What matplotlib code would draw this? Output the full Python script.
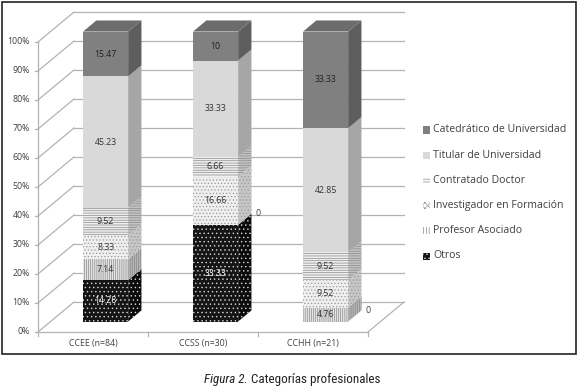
import matplotlib
matplotlib.use("Agg")
import matplotlib.pyplot as plt
from matplotlib.patches import Polygon, Rectangle

plt.rcParams["hatch.linewidth"] = 0.5

CATEGORIES = ["CCEE (n=84)", "CCSS (n=30)", "CCHH (n=21)"]
# stacked bottom -> top
SERIES = ["Otros", "Profesor Asociado", "Investigador en Formación",
          "Contratado Doctor", "Titular de Universidad", "Catedrático de Universidad"]
otros = [14.28, 33.33, 0]
prof_asociado = [7.14, 0, 4.76]
investigador = [8.33, 16.66, 9.52]
contratado = [9.52, 6.66, 9.52]
titular = [45.23, 33.33, 42.85]
catedratico = [15.47, 10, 33.33]
VALUES = [otros, prof_asociado, investigador, contratado, titular, catedratico]
YTICKS = list(range(0, 101, 10))

# front, side, top, hatch, hatch colour, label colour, legend hatch
STYLE = {
    "Otros": ("#151515", "#0b0b0b", "#202020", "....", "#d8d8d8", "white", "...."),
    "Profesor Asociado": ("#e4e4e4", "#b3b3b3", "#cccccc", "||||||||", "#8c8c8c", "#333333", "||||||"),
    "Investigador en Formación": ("#efefef", "#c6c6c6", "#dddddd", ".....", "#9a9a9a", "#333333", "xxxxxx"),
    "Contratado Doctor": ("#efefef", "#c2c2c2", "#dddddd", "-------", "#8a8a8a", "#333333", "------"),
    "Titular de Universidad": ("#d9d9d9", "#a6a6a6", "#c4c4c4", None, None, "#333333", None),
    "Catedrático de Universidad": ("#808080", "#5e5e5e", "#6c6c6c", None, None, "#222222", None),
}

FONT = ["Open Sans", "DejaVu Sans"]
DX, DY = 0.327, 10.34      # depth offset (category units, percent units)
D0, D1 = 0.35, 0.72        # bar depth span
W = 0.41
GRID = "#b3b3b3"


def proj(x, y, d):
    return (x + d * DX, y + d * DY)


fig = plt.figure(figsize=(5.8, 3.9), dpi=100)
ax = fig.add_axes([0, 0, 1, 1])
ax.set_xlim(-0.8455, 4.4273)
ax.set_ylim(-20.0, 114.48)
ax.axis("off")

# walls and floor
for v in YTICKS:
    ax.plot(*zip(proj(-0.5, v, 1), proj(2.5, v, 1)), color=GRID, lw=0.9, zorder=1)
    ax.plot(*zip(proj(-0.5, v, 0), proj(-0.5, v, 1)), color=GRID, lw=0.9, zorder=1)
    ax.plot([-0.5, -0.53], [v, v], color=GRID, lw=0.9, zorder=1)
    ax.text(-0.575, v, f"{v}%", ha="right", va="center", fontsize=6.3,
            color="#404040", family=FONT)
ax.plot([-0.5, -0.5], [0, 100], color=GRID, lw=0.9, zorder=1)
ax.plot([-0.5, 2.5], [0, 0], color=GRID, lw=0.9, zorder=1)
ax.plot(*zip(proj(2.5, 0, 0), proj(2.5, 0, 1)), color=GRID, lw=0.9, zorder=1)
for b in [-0.5, 0.5, 1.5, 2.5]:
    ax.plot([b, b], [0, -1.4], color=GRID, lw=0.9, zorder=1)
for i, cat in enumerate(CATEGORIES):
    ax.text(i, -3.9, cat, ha="center", va="center", fontsize=6.3,
            color="#404040", family=FONT)

# bars
for i in range(len(CATEGORIES)):
    bottom = 0
    last = max(k for k, vals in enumerate(VALUES) if vals[i] > 0)
    for k, name in enumerate(SERIES):
        h = VALUES[k][i]
        front, side, top, hatch, hcol, tcol, _ = STYLE[name]
        ec = hcol if hcol else front
        if h > 0:
            ax.bar(i + D0 * DX, h, bottom=bottom + D0 * DY, width=W, color=front,
                   hatch=hatch, edgecolor=ec, linewidth=0, zorder=3)
            r = i + W / 2
            ax.add_patch(Polygon([proj(r, bottom, D0), proj(r, bottom, D1),
                                  proj(r, bottom + h, D1), proj(r, bottom + h, D0)],
                                 facecolor=side, hatch=hatch, edgecolor=ec,
                                 linewidth=0, zorder=3))
            if k == last:
                l = i - W / 2
                t = bottom + h
                ax.add_patch(Polygon([proj(l, t, D0), proj(r, t, D0),
                                      proj(r, t, D1), proj(l, t, D1)],
                                     facecolor=top, linewidth=0, zorder=3))
            ax.text(i + D0 * DX, bottom + h / 2 + D0 * DY, f"{h:g}", ha="center",
                    va="center", fontsize=6.3, color=tcol, family=FONT, zorder=10)
        else:
            x, y = proj(i + W / 2, bottom, D1)
            ax.text(x + 0.04, y, "0", ha="left", va="center", fontsize=6.3,
                    color="#404040", family=FONT, zorder=10)
        bottom += h

# legend (top entry first)
for row, name in enumerate(reversed(SERIES)):
    front, side, top, hatch, hcol, tcol, lhatch = STYLE[name]
    ypx = 130 + 25.2 * row
    fc = front if name in ("Otros", "Catedrático de Universidad", "Titular de Universidad") else "white"
    fig.patches.append(Rectangle((423 / 580, 1 - (ypx + 3.5) / 390), 7 / 580, 7 / 390,
                                 transform=fig.transFigure, facecolor=fc, hatch=lhatch,
                                 edgecolor=hcol if hcol else front, linewidth=0))
    fig.text(433 / 580, 1 - ypx / 390, name, ha="left", va="center",
             fontsize=7.6, color="#404040", family=FONT)

# frame and caption
fig.patches.append(Rectangle((2 / 580, 1 - 354 / 390), 574 / 580, 352 / 390,
                             transform=fig.transFigure, fill=False,
                             edgecolor="#222222", linewidth=1.2))
CAP = ["Roboto Condensed", "DejaVu Sans"]
fig.text(251 / 580, 1 - 379 / 390, "Figura 2. ", ha="right", va="center",
         style="italic", fontsize=9.4, family=CAP, stretch="condensed", color="#222222")
fig.text(251 / 580, 1 - 379 / 390, "Categorías profesionales", ha="left",
         va="center", fontsize=9.4, family=CAP, stretch="condensed", color="#222222")

fig.savefig("out.png", dpi=100)
